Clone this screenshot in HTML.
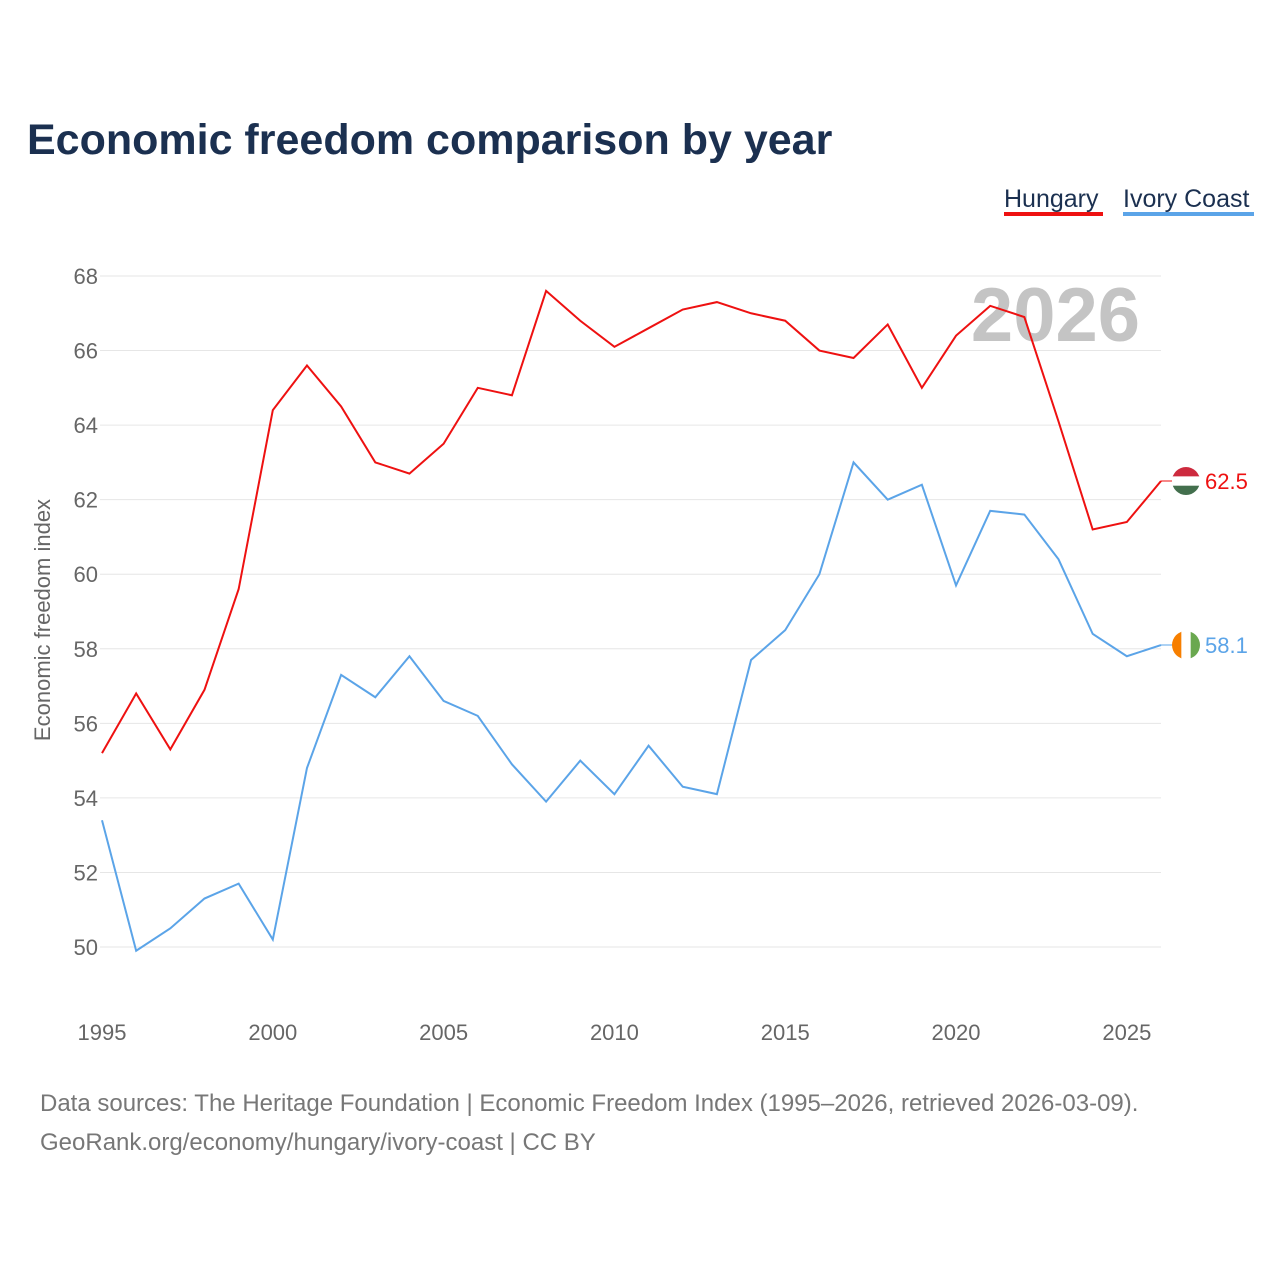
<!DOCTYPE html>
<html><head><meta charset="utf-8"><style>
body{margin:0;background:#fff;}
svg{display:block;font-family:"Liberation Sans",sans-serif;}
</style></head><body>
<svg id="chart" width="1280" height="1280">
<text x="27" y="154" font-size="43" font-weight="bold" fill="#1b3050">Economic freedom comparison by year</text>
<g><text x="1004" y="207" font-size="25" fill="#1b3050">Hungary</text><rect x="1004" y="212" width="99" height="4" fill="#ee1111"/></g>
<g><text x="1123" y="207" font-size="25" fill="#1b3050">Ivory Coast</text><rect x="1123" y="212" width="131" height="4" fill="#5ba4e8"/></g>
<text x="1140" y="341" font-size="76" font-weight="bold" fill="#c4c4c4" text-anchor="end">2026</text>
<text transform="translate(50,620) rotate(-90)" font-size="22" fill="#666" text-anchor="middle">Economic freedom index</text>
<g id="grid"></g><g id="ticks"></g><g id="lines"></g>
<text x="40" y="1111" font-size="24" fill="#777">Data sources: The Heritage Foundation | Economic Freedom Index (1995–2026, retrieved 2026-03-09).</text>
<text x="40" y="1150" font-size="24" fill="#777">GeoRank.org/economy/hungary/ivory-coast | CC BY</text>
</svg>
<script>
const years=[1995,1996,1997,1998,1999,2000,2001,2002,2003,2004,2005,2006,2007,2008,2009,2010,2011,2012,2013,2014,2015,2016,2017,2018,2019,2020,2021,2022,2023,2024,2025,2026];
const hungary=[55.2,56.8,55.3,56.9,59.6,64.4,65.6,64.5,63.0,62.7,63.5,65.0,64.8,67.6,66.8,66.1,66.6,67.1,67.3,67.0,66.8,66.0,65.8,66.7,65.0,66.4,67.2,66.9,64.1,61.2,61.4,62.5];
const ivoryCoast=[53.4,49.9,50.5,51.3,51.7,50.2,54.8,57.3,56.7,57.8,56.6,56.2,54.9,53.9,55.0,54.1,55.4,54.3,54.1,57.7,58.5,60.0,63.0,62.0,62.4,59.7,61.7,61.6,60.4,58.4,57.8,58.1];
const yTicks=[50,52,54,56,58,60,62,64,66,68];
const xTicks=[1995,2000,2005,2010,2015,2020,2025];
const NS="http://www.w3.org/2000/svg";
const X=v=>102+(v-1995)*(1161-102)/31;
const Y=v=>947-(v-50)*(947-276)/18;
function mk(t,a,p){const e=document.createElementNS(NS,t);for(const k in a)e.setAttribute(k,a[k]);p.appendChild(e);return e;}
const grid=document.getElementById('grid'),ticks=document.getElementById('ticks'),lines=document.getElementById('lines');
yTicks.forEach(v=>{
const l=mk('line',{x1:100,x2:1161,y1:Y(v),y2:Y(v),stroke:'#e6e6e6','stroke-width':1},grid);


const t=mk('text',{x:98,y:Y(v)+8,'font-size':22,fill:'#666','text-anchor':'end'},ticks);t.textContent=v;


});
xTicks.forEach(v=>{
const t=mk('text',{x:X(v),y:1040,'font-size':22,fill:'#666','text-anchor':'middle'},ticks);t.textContent=v;


});
function series(vals,color,name,flag){
const p=mk('polyline',{points:vals.map((v,i)=>X(years[i])+','+Y(vals[i])).join(' '),fill:'none',stroke:color,'stroke-width':2},lines);


const lv=vals[vals.length-1],ly=Y(lv),cx=1186;
mk('line',{x1:X(2026),x2:cx,y1:ly,y2:ly,stroke:color,'stroke-width':1},lines);
const g=mk('g',{},lines);


const cp=mk('clipPath',{id:'c'+name},g);mk('circle',{cx:cx,cy:ly,r:14},cp);
const f=mk('g',{'clip-path':'url(#c'+name+')'},g);
if(flag==='h'){['#cd2a3e','#fff','#436f4d'].forEach((c,i)=>mk('rect',{x:cx-14,y:ly-14+i*28/3,width:28,height:28/3+0.5,fill:c},f));}
else{['#f77f00','#fff','#6aa84f'].forEach((c,i)=>mk('rect',{x:cx-14+i*28/3,y:ly-14,width:28/3+0.5,height:28,fill:c},f));}
const t=mk('text',{x:1205,y:ly+8,'font-size':22,fill:color},lines);t.textContent=lv.toFixed(1);


}
series(hungary,'#ee1111','hungary','h');
series(ivoryCoast,'#5ba4e8','ivory-coast','c');
</script>
</body></html>
